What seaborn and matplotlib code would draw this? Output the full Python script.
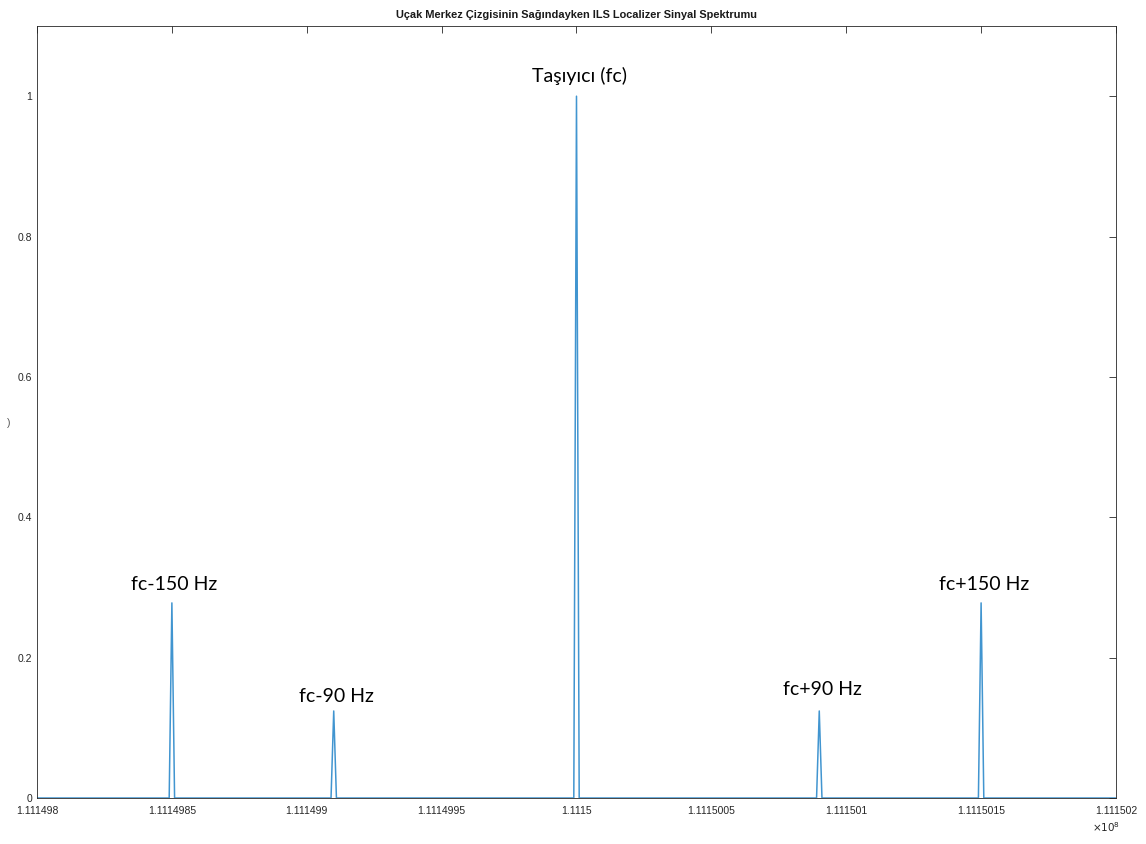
import numpy as np
import matplotlib
matplotlib.use("Agg")
import matplotlib.pyplot as plt
import seaborn as sns
from matplotlib.ticker import FuncFormatter

# Spektrum verisi (tepe frekanslari ve genlikleri)
f_start = 111149800
f_stop = 111150200
peak_freqs = [111149850, 111149910, 111150000, 111150090, 111150150]
peak_amps = [0.278, 0.124, 1.0, 0.124, 0.278]
peak_labels = ["fc-150 Hz", "fc-90 Hz", "Taşıyıcı (fc)", "fc+90 Hz", "fc+150 Hz"]
label_y = [0.292, 0.132, 1.016, 0.142, 0.292]
xtick_vals = [111149800, 111149850, 111149900, 111149950, 111150000,
              111150050, 111150100, 111150150, 111150200]
ytick_vals = [0, 0.2, 0.4, 0.6, 0.8, 1.0]

freq = np.arange(f_start, f_stop + 1, 1.0)
amp = np.zeros_like(freq)
for f, a in zip(peak_freqs, peak_amps):
    amp[int(f - f_start)] = a

sns.set_style("white")
plt.rcParams['font.family'] = ['Liberation Sans', 'DejaVu Sans']

fig = plt.figure(figsize=(11.46, 8.44), dpi=100)
ax = fig.add_axes([0.0323, 0.0545, 0.9415, 0.9147])

sns.lineplot(x=freq, y=amp, ax=ax, color="#4195d0", linewidth=1.1,
             estimator=None, sort=False)

ax.set_xlim(f_start, f_stop)
ax.set_ylim(0, 1.1)
ax.set_xticks(xtick_vals)
ax.set_yticks(ytick_vals)
ax.xaxis.set_major_formatter(FuncFormatter(lambda v, p: f"{v / 1e8:.8g}"))
ax.yaxis.set_major_formatter(FuncFormatter(lambda v, p: f"{v:g}"))
ax.tick_params(direction="in", length=5, width=0.6, colors="#262626",
               labelsize=7.5, top=True, right=True)
ax.tick_params(axis="x", pad=6)
for s in ax.spines.values():
    s.set_color("#262626")
    s.set_linewidth(0.6)

for f, y, lab in zip(peak_freqs, label_y, peak_labels):
    ax.text(f + 1, y, lab, ha="center", va="bottom", fontsize=14,
            family=["Lato", "DejaVu Sans"], color="black")

ax.set_title("Uçak Merkez Çizgisinin Sağındayken ILS Localizer Sinyal Spektrumu",
             fontsize=7.9, fontweight="bold", pad=6, color="#1a1a1a")
fig.text(0.953, 0.014, r"$\times10^{8}$", fontsize=7.5, color="#262626")
fig.text(0.006, 0.495, ")", fontsize=7.5, color="#555555")

fig.savefig("out.png", dpi=100)
